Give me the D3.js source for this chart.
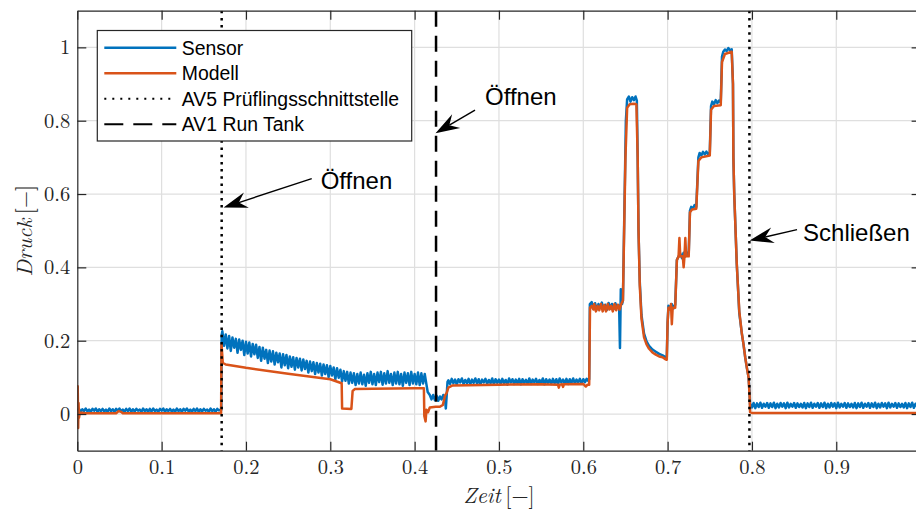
<!DOCTYPE html>
<html>
<head>
<meta charset="utf-8">
<script src="https://cdn.jsdelivr.net/npm/d3@7"></script>
<style>
  body { margin: 0; background: #fff; }
  svg { display: block; }
</style>
</head>
<body>
<div class="canvas"></div>
<script>
// ---- data ----

// axis ticks
const xTicks = [0, 0.1, 0.2, 0.3, 0.4, 0.5, 0.6, 0.7, 0.8, 0.9];
const yTicks = [0, 0.2, 0.4, 0.6, 0.8, 1];

// sensor: sampled stretches (start time, step, values) and hand-read transitions
const sensorIdle = [ // t = 0 ... 0.170, step 0.002
  0.010,0.014,0.006,0.013,0.008,0.015,0.007,0.012,0.006,0.014,
  0.009,0.015,0.006,0.013,0.008,0.014,0.007,0.012,0.006,0.015,
  0.008,0.013,0.006,0.014,0.009,0.015,0.007,0.012,0.006,0.014,
  0.008,0.015,0.006,0.013,0.007,0.014,0.009,0.012,0.006,0.015,
  0.008,0.013,0.006,0.014,0.007,0.015,0.008,0.012,0.006,0.014,
  0.009,0.015,0.006,0.013,0.008,0.014,0.007,0.012,0.006,0.015,
  0.008,0.013,0.006,0.014,0.009,0.015,0.007,0.012,0.006,0.014,
  0.008,0.015,0.006,0.013,0.007,0.014,0.009,0.012,0.006,0.015,
  0.008,0.013,0.006,0.014,0.010,0.012
];
const sensorJump = [[0.1708, 0.012], [0.1712, 0.215]];
const sensorDecay = [ // t = 0.172 ... 0.414, step 0.002
  0.226,0.186,0.217,0.179,0.213,0.172,0.209,0.181,0.205,0.167,
  0.203,0.175,0.200,0.161,0.197,0.165,0.195,0.157,0.191,0.163,
  0.189,0.153,0.183,0.145,0.181,0.151,0.175,0.139,0.173,0.143,
  0.171,0.135,0.167,0.141,0.165,0.127,0.163,0.133,0.161,0.125,
  0.157,0.129,0.155,0.121,0.153,0.127,0.151,0.119,0.149,0.123,
  0.145,0.113,0.143,0.117,0.141,0.109,0.139,0.113,0.137,0.105,
  0.135,0.109,0.133,0.101,0.131,0.105,0.127,0.095,0.125,0.099,
  0.121,0.089,0.117,0.091,0.115,0.083,0.113,0.085,0.111,0.079,
  0.109,0.083,0.113,0.081,0.107,0.077,0.111,0.085,0.115,0.081,
  0.109,0.079,0.113,0.087,0.115,0.080,0.111,0.083,0.117,0.085,
  0.109,0.079,0.113,0.083,0.115,0.081,0.109,0.077,0.113,0.085,
  0.111,0.079,0.115,0.083,0.109,0.081,0.113,0.079,0.111,0.083,
  0.109,0.081
];
const sensorDip = [
  [0.4155,0.060],[0.418,0.052],[0.420,0.040],[0.422,0.052],[0.424,0.038],
  [0.426,0.050],[0.428,0.036],[0.430,0.048],[0.432,0.040],[0.434,0.052],
  [0.436,0.042],[0.437,0.015],[0.438,0.050],[0.439,0.088]
];
const sensorFlat = [ // t = 0.440 ... 0.606, step 0.002
  0.092,0.082,0.096,0.084,0.094,0.080,0.095,0.086,0.097,0.082,
  0.093,0.084,0.096,0.081,0.094,0.085,0.097,0.083,0.095,0.080,
  0.094,0.086,0.096,0.082,0.093,0.084,0.097,0.081,0.095,0.085,
  0.094,0.082,0.096,0.084,0.093,0.080,0.097,0.086,0.095,0.082,
  0.094,0.084,0.096,0.081,0.095,0.085,0.093,0.083,0.097,0.082,
  0.094,0.086,0.096,0.082,0.093,0.084,0.097,0.081,0.095,0.085,
  0.094,0.082,0.096,0.084,0.095,0.081,0.097,0.086,0.094,0.083,
  0.096,0.082,0.095,0.085,0.097,0.083,0.094,0.086,0.096,0.084,
  0.095,0.087,0.096,0.090
];
const sensorPeaks = [
  [0.6070,0.095],[0.6078,0.300],
  [0.610,0.305],[0.612,0.288],[0.614,0.302],[0.616,0.285],[0.618,0.300],[0.620,0.290],
  [0.622,0.304],[0.624,0.286],[0.626,0.298],[0.628,0.284],[0.630,0.303],[0.632,0.288],
  [0.634,0.300],[0.636,0.286],[0.638,0.302],[0.640,0.290],[0.6425,0.295],[0.6435,0.180],
  [0.6445,0.340],[0.646,0.300],[0.647,0.310],
  [0.6505,0.800],[0.652,0.858],[0.654,0.866],[0.656,0.852],[0.658,0.864],[0.660,0.856],
  [0.662,0.866],[0.6635,0.855],
  [0.6645,0.700],[0.6655,0.500],[0.667,0.360],[0.669,0.270],[0.672,0.220],[0.675,0.198],
  [0.678,0.186],[0.682,0.176],[0.686,0.170],[0.690,0.164],[0.694,0.160],[0.697,0.156],
  [0.699,0.152],
  [0.700,0.250],[0.701,0.295],[0.703,0.290],[0.705,0.300],[0.707,0.288],[0.709,0.298],
  [0.711,0.420],[0.713,0.430],[0.715,0.438],[0.717,0.425],[0.719,0.440],[0.721,0.430],
  [0.723,0.440],[0.725,0.435],
  [0.7265,0.555],[0.728,0.565],[0.730,0.560],[0.732,0.570],[0.734,0.565],
  [0.7365,0.700],[0.738,0.712],[0.740,0.705],[0.742,0.715],[0.744,0.708],[0.746,0.716],
  [0.748,0.708],[0.750,0.714],
  [0.7515,0.840],[0.753,0.852],[0.755,0.845],[0.757,0.856],[0.759,0.848],[0.761,0.855],
  [0.763,0.850],
  [0.7645,0.975],[0.766,0.988],[0.768,0.994],[0.770,0.990],[0.772,0.998],[0.774,0.992],
  [0.776,0.995],
  [0.7775,0.900],[0.778,0.700],[0.779,0.600],[0.782,0.410],[0.785,0.275],[0.788,0.220],
  [0.790,0.190],[0.792,0.155],[0.794,0.126],[0.796,0.100],[0.7972,0.060],[0.7978,0.025]
];
const sensorAfter = [ // t = 0.798 ... 1.000, step 0.002
  0.028,0.018,0.030,0.016,0.029,0.019,0.031,0.017,0.028,0.020,
  0.030,0.017,0.029,0.019,0.031,0.016,0.028,0.018,0.030,0.020,
  0.029,0.016,0.031,0.018,0.028,0.020,0.030,0.017,0.029,0.019,
  0.028,0.018,0.030,0.016,0.029,0.019,0.031,0.017,0.028,0.020,
  0.030,0.017,0.029,0.019,0.031,0.016,0.028,0.018,0.030,0.020,
  0.029,0.016,0.031,0.018,0.028,0.020,0.030,0.017,0.029,0.019,
  0.028,0.018,0.030,0.016,0.029,0.019,0.031,0.017,0.028,0.020,
  0.030,0.017,0.029,0.019,0.031,0.016,0.028,0.018,0.030,0.020,
  0.029,0.016,0.031,0.018,0.028,0.020,0.030,0.017,0.029,0.019,
  0.028,0.018,0.030,0.016,0.029,0.019,0.031,0.017,0.028,0.020,
  0.028,0.022
];

// model [time, pressure]
const modell = [
  [0.000,0.000],[0.0005,0.076],[0.001,-0.038],[0.0015,0.030],[0.002,-0.010],[0.003,0.004],
  [0.010,0.002],[0.046,0.002],[0.049,0.008],[0.052,0.006],[0.054,0.002],[0.1705,0.002],
  [0.171,0.190],[0.1725,0.140],[0.176,0.135],[0.200,0.126],[0.250,0.110],[0.300,0.095],
  [0.311,0.086],[0.3135,0.084],[0.314,0.015],[0.325,0.014],[0.3265,0.063],[0.329,0.068],
  [0.350,0.069],[0.400,0.070],[0.411,0.070],[0.4115,-0.005],[0.413,-0.020],[0.414,0.012],
  [0.416,0.005],[0.418,0.018],[0.425,0.020],[0.430,0.020],[0.4335,0.025],[0.436,0.050],
  [0.438,0.058],[0.440,0.072],[0.445,0.078],[0.500,0.080],[0.550,0.081],[0.570,0.080],
  [0.571,0.072],[0.572,0.080],[0.575,0.081],[0.576,0.074],[0.577,0.081],[0.600,0.082],
  [0.603,0.075],[0.605,0.080],[0.607,0.080],
  [0.608,0.290],[0.610,0.295],[0.612,0.285],[0.613,0.300],[0.615,0.280],[0.617,0.295],
  [0.619,0.283],[0.621,0.300],[0.623,0.280],[0.625,0.297],[0.627,0.280],[0.629,0.300],
  [0.631,0.285],[0.633,0.295],[0.635,0.280],[0.637,0.300],[0.639,0.283],[0.641,0.298],
  [0.643,0.285],[0.645,0.300],[0.647,0.310],
  [0.650,0.700],[0.652,0.835],[0.655,0.845],[0.660,0.846],[0.663,0.845],
  [0.6645,0.700],[0.6655,0.500],[0.667,0.350],[0.669,0.260],[0.672,0.210],[0.675,0.190],
  [0.678,0.178],[0.682,0.168],[0.686,0.162],[0.690,0.157],[0.694,0.155],[0.697,0.150],
  [0.699,0.148],
  [0.700,0.250],[0.701,0.290],[0.703,0.285],[0.704,0.300],[0.705,0.245],[0.706,0.290],
  [0.709,0.290],
  [0.711,0.420],[0.713,0.430],[0.714,0.480],[0.715,0.430],[0.718,0.430],[0.719,0.400],
  [0.720,0.430],[0.721,0.480],[0.722,0.430],[0.725,0.430],
  [0.7265,0.550],[0.729,0.558],[0.734,0.560],
  [0.7365,0.690],[0.740,0.700],[0.750,0.705],
  [0.7515,0.830],[0.755,0.840],[0.763,0.842],
  [0.7645,0.960],[0.768,0.982],[0.776,0.988],
  [0.7775,0.900],[0.778,0.700],[0.779,0.600],[0.782,0.410],[0.785,0.280],[0.788,0.220],
  [0.790,0.190],[0.792,0.155],[0.794,0.126],[0.796,0.100],[0.7972,0.050],[0.7978,0.005],
  [0.800,0.003],[1.000,0.003]
];

// valve switching times
const valveNames = ['AV5 Prüflingsschnittstelle', 'AV1 Run Tank'];
const valveTimes = [[0.1712, 0.797], [0.4254]];

// annotations: text anchor and arrow (tail -> tip), in data units
const noteLabels = ['Öffnen', 'Öffnen', 'Schließen'];
const noteText = [[0.2886, 0.6375], [0.4835, 0.865], [0.8606, 0.495]];
const noteArrows = [[0.278, 0.642, 0.1735, 0.563], [0.4716, 0.829, 0.4248, 0.7655], [0.8535, 0.503, 0.7972, 0.473]];

// ---- chart ----
const dims = { width: 916, height: 509 };
const plot = { left: 77.3, right: 920.6, top: 10.7, bottom: 450.7 };

const colors = { sensor: '#0072BD', modell: '#D95319', axis: '#262626', grid: '#dfdfdf' };

const sampled = (t0, dt, vals) => vals.map((v, i) => [t0 + i * dt, v]);
const sensor = [].concat(
  sampled(0, 0.002, sensorIdle), sensorJump,
  sampled(0.172, 0.002, sensorDecay), sensorDip,
  sampled(0.440, 0.002, sensorFlat), sensorPeaks,
  sampled(0.798, 0.002, sensorAfter)
);

const x = d3.scaleLinear().domain([0, 1]).range([plot.left, plot.right]);
const y = d3.scaleLinear().domain([-0.1, 1.1]).range([plot.bottom, plot.top]);

const svg = d3.select('.canvas')
  .append('svg')
  .attr('width', dims.width)
  .attr('height', dims.height);

svg.append('clipPath').attr('id', 'clip')
  .append('rect')
  .attr('x', plot.left).attr('y', plot.top)
  .attr('width', plot.right - plot.left).attr('height', plot.bottom - plot.top);

//grid lines
const grid = svg.append('g').attr('stroke', colors.grid).attr('stroke-width', 1.2);
grid.selectAll('.gx').data(xTicks.filter(d => d > 0)).enter()
  .append('line')
  .attr('x1', d => x(d)).attr('x2', d => x(d))
  .attr('y1', plot.top).attr('y2', plot.bottom);
grid.selectAll('.gy').data(yTicks).enter()
  .append('line')
  .attr('y1', d => y(d)).attr('y2', d => y(d))
  .attr('x1', plot.left).attr('x2', plot.right);

//data lines
const line = d3.line().x(d => x(d[0])).y(d => y(d[1]));
const graph = svg.append('g').attr('clip-path', 'url(#clip)');

graph.append('path')
  .datum(sensor)
  .attr('d', line)
  .attr('fill', 'none')
  .attr('stroke', colors.sensor)
  .attr('stroke-width', 2.5)
  .attr('stroke-linejoin', 'round');

graph.append('path')
  .datum(modell)
  .attr('d', line)
  .attr('fill', 'none')
  .attr('stroke', colors.modell)
  .attr('stroke-width', 2.5)
  .attr('stroke-linejoin', 'round');

//valve lines (dotted = AV5, dashed = AV1)
const dashes = ['2.5,4.7', '16,9'];
valveTimes.forEach((times, k) => {
  graph.selectAll('.v' + k).data(times).enter()
    .append('line')
    .attr('x1', d => x(d)).attr('x2', d => x(d))
    .attr('y1', y(1.1)).attr('y2', y(-0.1))
    .attr('stroke', '#000')
    .attr('stroke-width', 2.5)
    .attr('stroke-dasharray', dashes[k]);
});

//axes with inward ticks
const tickFont = "'Latin Modern Roman','CMU Serif','Liberation Serif',serif";
const styleAxis = g => {
  g.select('.domain').attr('stroke', colors.axis).attr('stroke-width', 1.2);
  g.selectAll('.tick line').attr('stroke', colors.axis).attr('stroke-width', 1.2);
  g.selectAll('.tick text').attr('fill', '#262626').style('font-family', tickFont).style('font-size', '20.5px');
};

svg.append('g')
  .attr('transform', `translate(0, ${plot.bottom})`)
  .call(d3.axisBottom(x).tickValues(xTicks).tickSize(-9).tickSizeOuter(0).tickPadding(9).tickFormat(d => String(d)))
  .call(styleAxis);
svg.append('g')
  .attr('transform', `translate(0, ${plot.top})`)
  .call(d3.axisTop(x).tickValues(xTicks).tickSize(-9).tickSizeOuter(0).tickFormat(''))
  .call(styleAxis);
svg.append('g')
  .attr('transform', `translate(${plot.left}, 0)`)
  .call(d3.axisLeft(y).tickValues(yTicks).tickSize(-9).tickSizeOuter(0).tickPadding(7).tickFormat(d => String(d)))
  .call(styleAxis);
svg.append('g')
  .attr('transform', `translate(${plot.right}, 0)`)
  .call(d3.axisRight(y).tickValues(yTicks).tickSize(-9).tickSizeOuter(0).tickFormat(''))
  .call(styleAxis);
svg.selectAll('.domain').attr('fill', 'none');

//axis labels
const xLabel = svg.append('text')
  .attr('x', (plot.left + plot.right) / 2)
  .attr('y', 503)
  .attr('text-anchor', 'middle')
  .style('font-family', tickFont).style('font-size', '22px').attr('fill', '#262626');
xLabel.append('tspan').style('font-style', 'italic').text('Zeit');
xLabel.append('tspan').text('\u2009[\u2212]');

const yLabel = svg.append('text')
  .attr('transform', `translate(32, ${(plot.top + plot.bottom) / 2}) rotate(-90)`)
  .attr('text-anchor', 'middle')
  .style('font-family', tickFont).style('font-size', '22px').attr('fill', '#262626');
yLabel.append('tspan').style('font-style', 'italic').text('Druck');
yLabel.append('tspan').text('\u2009[\u2212]');

//legend
const legendGroup = svg.append('g').attr('transform', 'translate(97.3, 30.5)');
legendGroup.append('rect')
  .attr('width', 314.4).attr('height', 110.5)
  .attr('fill', '#fff').attr('stroke', colors.axis).attr('stroke-width', 1.2);

const legendItems = [
  { label: 'Sensor', color: colors.sensor, dash: null },
  { label: 'Modell', color: colors.modell, dash: null },
  { label: valveNames[0], color: '#000', dash: '2,6' },
  { label: valveNames[1], color: '#000', dash: '19,10' }
];
const rows = legendGroup.selectAll('.row').data(legendItems).enter()
  .append('g')
  .attr('transform', (d, i) => `translate(0, ${17.3 + i * 25.5})`);
rows.append('line')
  .attr('x1', 7).attr('x2', 79)
  .attr('stroke', d => d.color)
  .attr('stroke-width', d => d.dash ? 2 : 2.5)
  .attr('stroke-dasharray', d => d.dash);
rows.append('text')
  .attr('x', 84.5)
  .attr('dy', '0.35em')
  .style('font-family', "'Liberation Sans', Arial, sans-serif")
  .style('font-size', '19.4px')
  .text(d => d.label);

//annotations
const notes = svg.append('g');
noteLabels.forEach((label, i) => {
  const [x1, y1, x2, y2] = noteArrows[i];
  const p1 = [x(x1), y(y1)], p2 = [x(x2), y(y2)];
  const ang = Math.atan2(p2[1] - p1[1], p2[0] - p1[0]);
  const L = 24, W = 8, N = 16;
  const rot = ([a, b]) => [p2[0] + a * Math.cos(ang) - b * Math.sin(ang), p2[1] + a * Math.sin(ang) + b * Math.cos(ang)];
  const head = [[0, 0], [-L, -W], [-N, 0], [-L, W]].map(rot);
  const notch = rot([-N, 0]);

  notes.append('line')
    .attr('x1', p1[0]).attr('y1', p1[1])
    .attr('x2', notch[0]).attr('y2', notch[1])
    .attr('stroke', '#000').attr('stroke-width', 1.4);
  notes.append('path')
    .attr('d', d3.line()(head) + 'Z')
    .attr('fill', '#000');

  notes.append('text')
    .attr('x', x(noteText[i][0]))
    .attr('y', y(noteText[i][1]))
    .attr('dy', '0.35em')
    .style('font-family', "'Liberation Sans', Arial, sans-serif")
    .style('font-size', '24px')
    .text(label);
});
</script>
</body>
</html>
